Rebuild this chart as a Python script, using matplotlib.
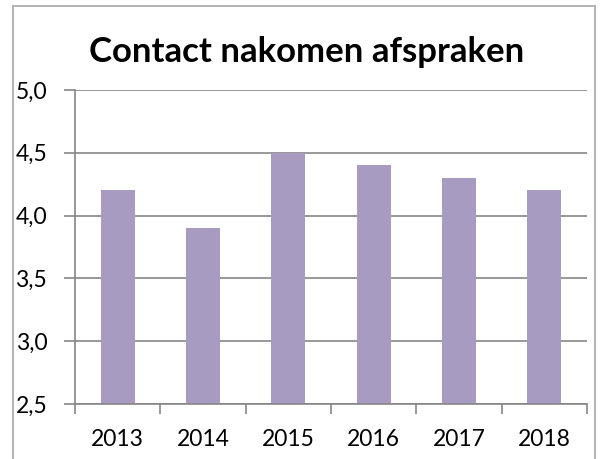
import matplotlib.pyplot as plt
from matplotlib.patches import Rectangle

years = ["2013", "2014", "2015", "2016", "2017", "2018"]
scores = [4.2, 3.9, 4.5, 4.4, 4.3, 4.2]
y_ticks = [2.5, 3.0, 3.5, 4.0, 4.5, 5.0]
y_labels = ["2,5", "3,0", "3,5", "4,0", "4,5", "5,0"]

W, H = 602, 459
fig = plt.figure(figsize=(W / 100, H / 100), dpi=100)
plt.rcParams["font.family"] = ["Lato", "DejaVu Sans"]

# chart border (cropped at the bottom, like the original)
fig.patches.append(Rectangle((13 / W, -0.05), (595 - 13) / W, (H - 6) / H + 0.05,
                             transform=fig.transFigure, fill=False,
                             edgecolor="#a6a6a6", linewidth=1.2))

ax = fig.add_axes([75 / W, (H - 404) / H, (587 - 75) / W, (404 - 90) / H])

x = list(range(len(years)))
ax.bar(x, [s - 2.5 for s in scores], bottom=2.5, width=0.4, color="#a89bc2", zorder=2)

ax.set_xlim(-0.5, len(years) - 0.5)
ax.set_ylim(2.5, 5.0)

ax.set_yticks(y_ticks)
ax.set_yticklabels(y_labels)
ax.yaxis.grid(True, color="#868686", linewidth=1.2, zorder=0)

ax.set_xticks([i - 0.5 for i in range(len(years) + 1)])
ax.set_xticklabels([])
ax.set_xticks(x, minor=True)
ax.set_xticklabels(years, minor=True)
ax.tick_params(axis="x", which="minor", length=0, pad=18, labelsize=16.5)
ax.tick_params(axis="x", which="major", length=7, width=1.2, color="#868686")
ax.tick_params(axis="y", length=8, width=1.2, color="#868686", pad=12, labelsize=16.5)

for s in ["top", "right"]:
    ax.spines[s].set_visible(False)
for s in ["left", "bottom"]:
    ax.spines[s].set_color("#868686")
    ax.spines[s].set_linewidth(1.2)
ax.set_axisbelow(True)

fig.text(307 / W, (H - 62) / H, "Contact nakomen afspraken", ha="center",
         va="baseline", fontsize=25, fontweight="bold")

fig.savefig("out.png", dpi=100)
